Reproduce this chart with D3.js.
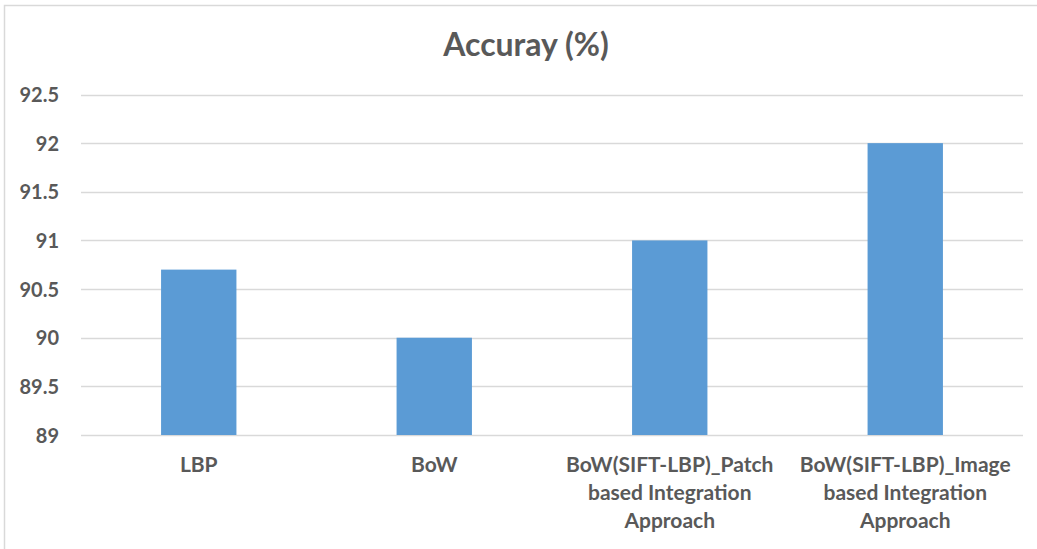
<!DOCTYPE html>
<html>
<head>
<meta charset="utf-8">
<script src="https://cdn.jsdelivr.net/npm/d3@7/dist/d3.min.js"></script>
<style>
  html, body { margin: 0; padding: 0; background: #fff; }
  svg { display: block; }
  text { font-family: Lato, "Noto Sans", sans-serif; font-weight: bold; fill: #595959; }
</style>
</head>
<body>
<svg id="chart" width="1037" height="549"></svg>
<script>
// Accuracy of each method (%)
const categories = [
  ["LBP"],
  ["BoW"],
  ["BoW(SIFT-LBP)_Patch", "based Integration", "Approach"],
  ["BoW(SIFT-LBP)_Image", "based Integration", "Approach"]
];
const accuracy = [90.7, 90.0, 91.0, 92.0];
const yTicks = [89, 89.5, 90, 90.5, 91, 91.5, 92, 92.5];
const chartTitle = "Accuray (%)";

const svg = d3.select("#chart");
const W = 1037, H = 549;
const plot = { left: 81, right: 1023, top: 94.5, bottom: 435 };

// outer chart frame (only top and left edges fall inside the view)
svg.append("rect")
  .attr("x", 4.5).attr("y", 5.5)
  .attr("width", W + 10).attr("height", H + 10)
  .attr("fill", "#fff").attr("stroke", "#d9d9d9").attr("stroke-width", 1.5);

const x = d3.scaleBand()
  .domain(d3.range(categories.length))
  .range([plot.left, plot.right])
  .paddingInner(0.68).paddingOuter(0.34);

const y = d3.scaleLinear()
  .domain([89, 92.5])
  .range([plot.bottom, plot.top]);

// horizontal gridlines
svg.append("g")
  .selectAll("line")
  .data(yTicks)
  .join("line")
  .attr("x1", plot.left).attr("x2", plot.right)
  .attr("y1", d => Math.round(y(d)) + 0.5).attr("y2", d => Math.round(y(d)) + 0.5)
  .attr("stroke", "#d9d9d9").attr("stroke-width", 1.5);

// bars
svg.append("g")
  .selectAll("rect")
  .data(accuracy)
  .join("rect")
  .attr("x", (d, i) => x(i))
  .attr("width", x.bandwidth())
  .attr("y", d => y(d))
  .attr("height", d => y(89) - y(d))
  .attr("fill", "#5b9bd5");

// y-axis labels
const yAxis = d3.axisLeft(y).tickValues(yTicks).tickSize(0).tickPadding(0)
  .tickFormat(d3.format("~g"));
const gy = svg.append("g").attr("transform", `translate(59,0)`).call(yAxis);
gy.select(".domain").remove();
gy.selectAll("text")
  .attr("font-size", 20).attr("font-family", null).attr("fill", "#595959")
  .attr("dy", "0.36em");

// category labels (wrapped lines)
const cat = svg.append("g")
  .selectAll("text")
  .data(categories)
  .join("text")
  .attr("text-anchor", "middle")
  .attr("font-size", 21)
  .attr("x", (d, i) => x(i) + x.bandwidth() / 2)
  .attr("y", 472);
cat.selectAll("tspan")
  .data(d => d)
  .join("tspan")
  .attr("x", function () { return this.parentNode.getAttribute("x"); })
  .attr("dy", (d, i) => i === 0 ? 0 : 28)
  .text(d => d);

// title
svg.append("text")
  .attr("x", 526).attr("y", 56)
  .attr("text-anchor", "middle")
  .attr("font-size", 32)
  .text(chartTitle);
</script>
</body>
</html>
